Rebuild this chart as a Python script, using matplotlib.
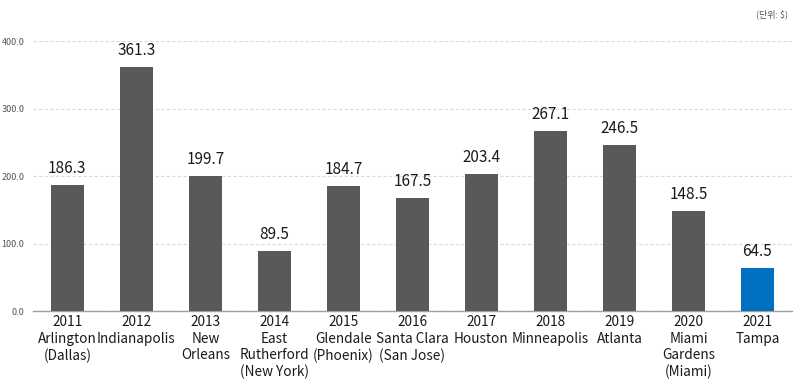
import matplotlib
matplotlib.use("Agg")
from matplotlib import pyplot as plt

years = ["2011", "2012", "2013", "2014", "2015", "2016", "2017", "2018", "2019", "2020", "2021"]
cities = ["Arlington\n(Dallas)", "Indianapolis", "New\nOrleans", "East\nRutherford\n(New York)",
          "Glendale\n(Phoenix)", "Santa Clara\n(San Jose)", "Houston", "Minneapolis",
          "Atlanta", "Miami\nGardens\n(Miami)", "Tampa"]
values = [186.3, 361.3, 199.7, 89.5, 184.7, 167.5, 203.4, 267.1, 246.5, 148.5, 64.5]
yticks = [0, 100, 200, 300, 400]

plt.rcParams['font.family'] = ['Noto Sans CJK KR', 'DejaVu Sans']

fig = plt.figure(figsize=(8, 3.88), dpi=100)
ax = fig.add_axes([0.041, 0.198, 0.949, 0.696])

x = list(range(len(values)))
bar_colors = ['#595959'] * (len(values) - 1) + ['#0070C0']
bars = ax.bar(x, values, width=0.47, color=bar_colors, zorder=3)
for b, v in zip(bars, values):
    ax.text(b.get_x() + b.get_width() / 2, v + 12, f"{v:.1f}", ha='center', va='bottom',
            fontsize=11, color='#1a1a1a', clip_on=False)

ax.set_xlim(-0.5, len(values) - 0.5)
ax.set_ylim(0, 400)
ax.set_yticks(yticks)
ax.set_yticklabels([f"{t:.1f}" for t in yticks], fontsize=6.5, color='#555555')
ax.set_xticks(x)
ax.set_xticklabels([f"{y}\n{c}" for y, c in zip(years, cities)], fontsize=9.8,
                   linespacing=1.22, color='#1a1a1a')
ax.tick_params(axis='both', length=0)
ax.tick_params(axis='x', pad=3)
ax.tick_params(axis='y', pad=6)

ax.yaxis.grid(True, linestyle=(0, (3, 2)), color='#dadada', linewidth=0.8, zorder=0)
for s in ['top', 'right', 'left']:
    ax.spines[s].set_visible(False)
ax.spines['bottom'].set_color('#a0a0a0')
ax.spines['bottom'].set_linewidth(1)

fig.text(0.985, 0.975, "(단위: $)", ha='right', va='top', fontsize=6.5, color='#555555')

fig.savefig("out.png", dpi=100)
